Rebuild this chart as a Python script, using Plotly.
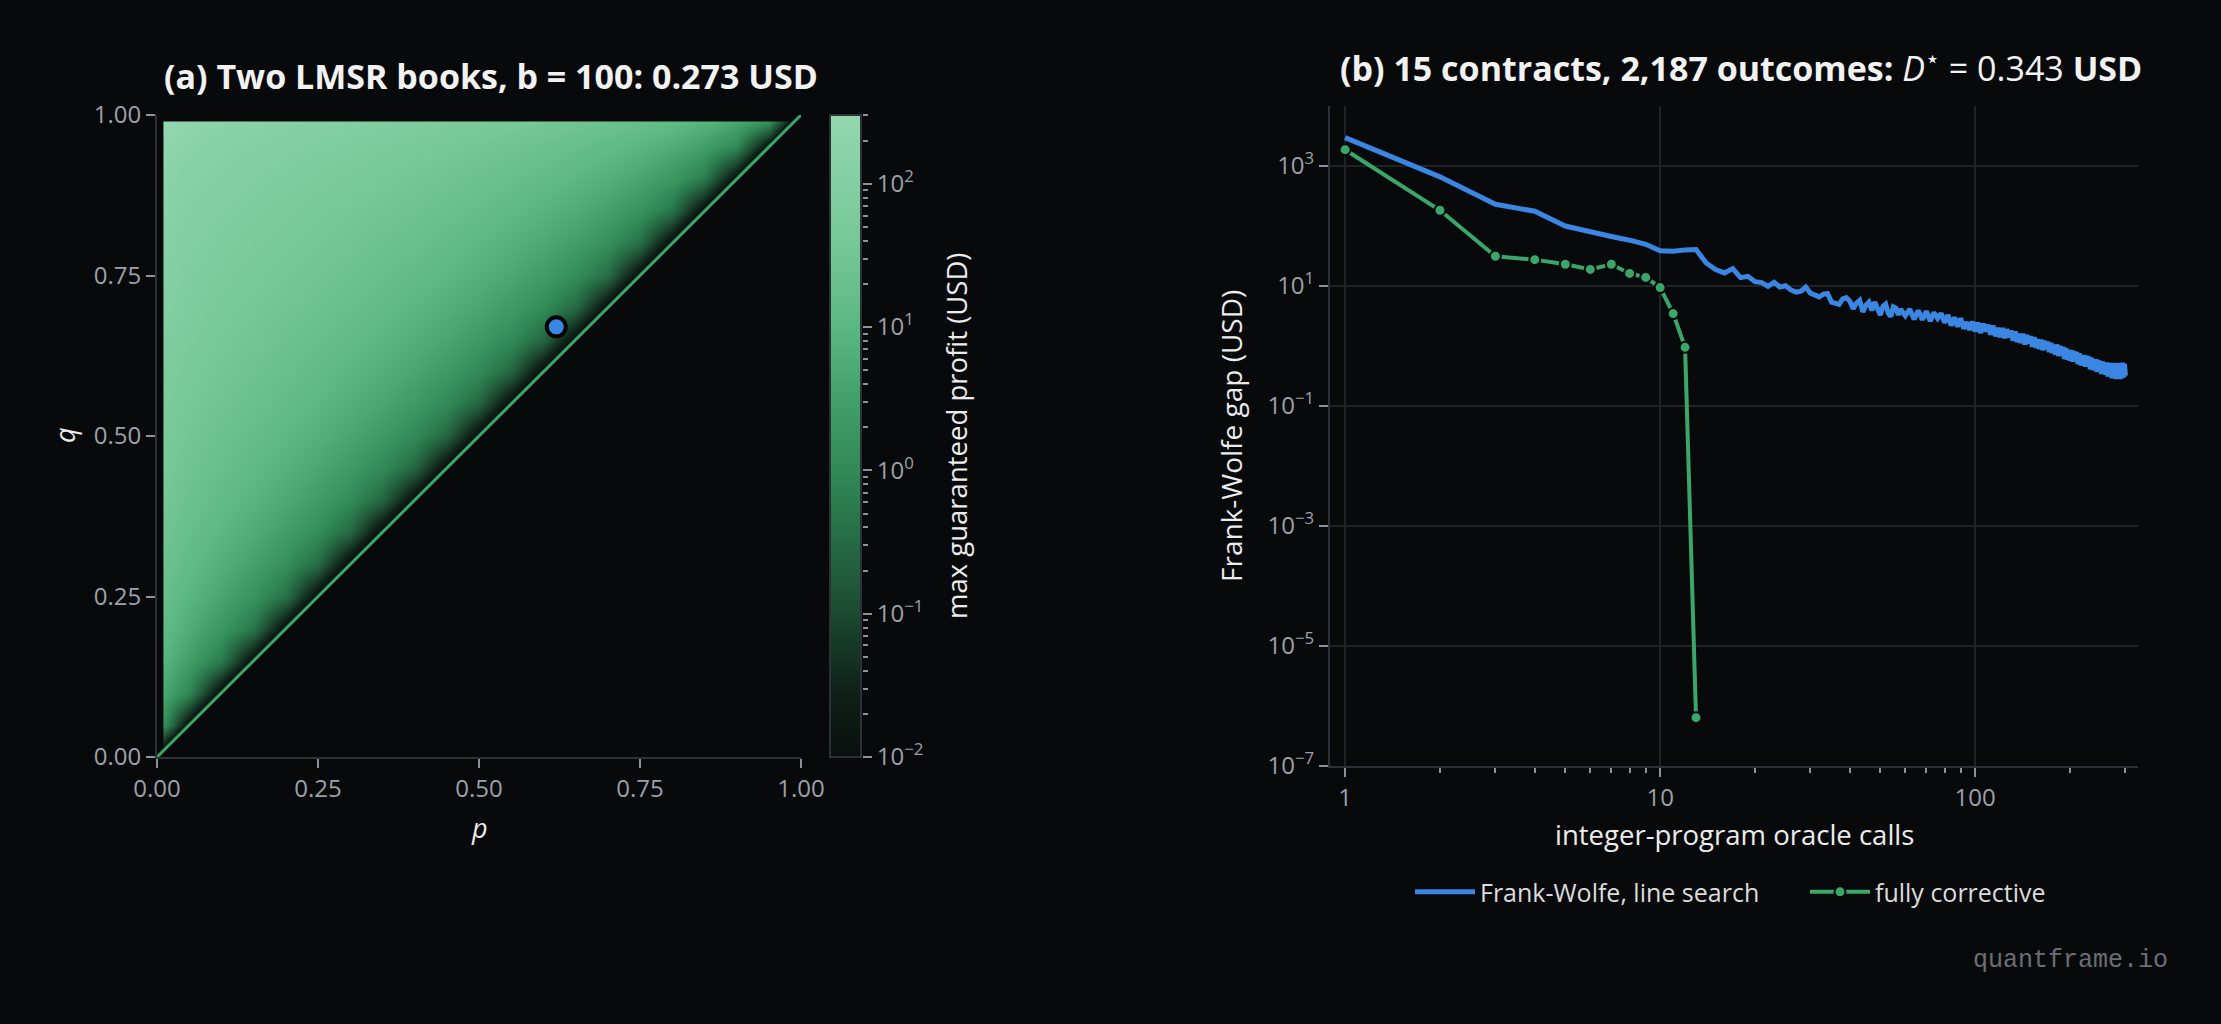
import plotly.graph_objects as go

W, H = 2221, 1024
BG = "#08090b"
BLUE = "#3a86e2"
GREEN = "#3aa66a"
SPINE = "#2c3037"
GRIDC = "#1f2227"
TICKC = "#8e939b"
TICKFONTC = "#9ca1a9"
TEXTC = "#ececec"
FONT = "Open Sans, Noto Sans, sans-serif"

# ---------------- Panel (a): two LMSR books ----------------
PRICE_GRID = [0.01, 0.05, 0.10, 0.15, 0.20, 0.25, 0.30, 0.35, 0.40, 0.45, 0.50,
              0.55, 0.60, 0.65, 0.70, 0.75, 0.80, 0.85, 0.90, 0.95, 0.99]
LOG_FLOOR = -2.0
LOG_CEIL = 2.48
# log10 max guaranteed profit (USD); row = q index, entries for p index < q index
LOG_PROFIT_UPPER = [
    [],
    [0.20],
    [0.69, -0.03],
    [0.95, 0.47, -0.24],
    [1.13, 0.76, 0.31, -0.36],
    [1.27, 0.96, 0.61, 0.20, -0.44],
    [1.38, 1.11, 0.83, 0.52, 0.13, -0.50],
    [1.47, 1.23, 0.99, 0.75, 0.46, 0.08, -0.54],
    [1.56, 1.34, 1.13, 0.92, 0.69, 0.42, 0.04, -0.57],
    [1.64, 1.43, 1.25, 1.07, 0.87, 0.65, 0.39, 0.02, -0.59],
    [1.71, 1.52, 1.35, 1.19, 1.02, 0.84, 0.63, 0.37, 0.01, -0.60],
    [1.78, 1.60, 1.44, 1.30, 1.15, 1.00, 0.82, 0.62, 0.36, 0.00, -0.60],
    [1.84, 1.67, 1.53, 1.40, 1.26, 1.13, 0.98, 0.81, 0.61, 0.36, 0.01, -0.59],
    [1.90, 1.75, 1.61, 1.49, 1.37, 1.25, 1.12, 0.97, 0.81, 0.62, 0.37, 0.02, -0.57],
    [1.97, 1.82, 1.69, 1.57, 1.47, 1.36, 1.24, 1.12, 0.98, 0.82, 0.63, 0.39, 0.04, -0.54],
    [2.03, 1.89, 1.76, 1.66, 1.56, 1.46, 1.36, 1.25, 1.13, 1.00, 0.84, 0.65, 0.42, 0.08, -0.50],
    [2.10, 1.96, 1.84, 1.74, 1.65, 1.56, 1.47, 1.37, 1.26, 1.15, 1.02, 0.87, 0.69, 0.46, 0.13, -0.44],
    [2.17, 2.03, 1.92, 1.83, 1.74, 1.66, 1.57, 1.49, 1.40, 1.30, 1.19, 1.07, 0.92, 0.75, 0.52, 0.20, -0.36],
    [2.25, 2.12, 2.01, 1.92, 1.84, 1.76, 1.69, 1.61, 1.53, 1.44, 1.35, 1.25, 1.13, 0.99, 0.83, 0.61, 0.31, -0.24],
    [2.36, 2.22, 2.12, 2.03, 1.96, 1.89, 1.82, 1.75, 1.67, 1.60, 1.52, 1.43, 1.34, 1.23, 1.11, 0.96, 0.76, 0.47, -0.03],
    [2.51, 2.36, 2.25, 2.17, 2.10, 2.03, 1.97, 1.90, 1.84, 1.78, 1.71, 1.64, 1.56, 1.47, 1.38, 1.27, 1.13, 0.95, 0.69, 0.20],
]
MARK_P = [0.62]
MARK_Q = [0.67]
DIAG_P = [0.0, 1.0]
DIAG_Q = [0.0, 1.0]
A_TICKS = [0.0, 0.25, 0.5, 0.75, 1.0]
A_TICKTEXT = ["0.00", "0.25", "0.50", "0.75", "1.00"]
CB_TICKS = [0.01, 0.1, 1, 10, 100]
CB_TICKTEXT = ["10<sup>\u22122</sup>", "10<sup>\u22121</sup>", "10<sup>0</sup>",
               "10<sup>1</sup>", "10<sup>2</sup>"]
CB_MINOR = [0.02, 0.03, 0.04, 0.05, 0.06, 0.07, 0.08, 0.09,
            0.2, 0.3, 0.4, 0.5, 0.6, 0.7, 0.8, 0.9,
            2, 3, 4, 5, 6, 7, 8, 9,
            20, 30, 40, 50, 60, 70, 80, 90, 200, 300]
COLORSCALE = [
    [0.00, "#0a0f0d"],
    [0.10, "#0f2018"],
    [0.224, "#1c4a31"],
    [0.335, "#266b44"],
    [0.447, "#318a56"],
    [0.56, "#43a068"],
    [0.671, "#5cb882"],
    [0.80, "#76c896"],
    [1.00, "#93d7ae"],
]

# ---------------- Panel (b): Frank-Wolfe gap ----------------
FC_CALLS = list(range(1, 14))
FC_GAP = [1870, 183, 31.3, 27.5, 23.0, 18.9, 23.0, 16.2, 13.9, 9.4, 3.47, 0.95, 6.4e-7]

FW_CALLS = list(range(1, 61)) + list(range(62, 301, 2))
FW_GAP = [
    2970, 660, 230, 176, 100, 79, 67, 58, 49.5, 38.5,
    38.0, 40.0, 40.5, 24.2, 18.8, 16.5, 19.5, 13.8, 14.5, 11.8,
    11.4, 9.9, 11.5, 9.6, 10.1, 8.6, 7.9, 8.2, 9.6, 7.6,
    7.0, 6.6, 7.3, 7.5, 5.4, 5.1, 4.95, 6.1, 6.4, 5.6,
    4.2, 5.2, 5.8, 3.7, 4.8, 5.4, 3.9, 5.4, 4.3, 3.3,
    4.6, 5.0, 3.5, 3.1, 4.5, 4.3, 3.3, 4.1, 3.6, 3.2,
    4.1, 2.8, 3.9, 2.75, 3.8, 2.6, 3.6, 2.9, 3.5, 2.45,
    3.3, 2.2, 3.0, 2.1, 2.9, 1.95, 2.5, 1.85, 2.55, 1.75,
    2.45, 1.65, 2.35, 1.75, 2.25, 1.55, 2.2, 1.45, 2.0, 1.4,
    2.0, 1.35, 1.9, 1.4, 1.82, 1.22, 1.75, 1.16, 1.6, 1.12,
    1.6, 1.06, 1.52, 1.1, 1.46, 0.97, 1.4, 0.93, 1.3, 0.89,
    1.28, 0.85, 1.22, 0.88, 1.18, 0.79, 1.13, 0.76, 1.04, 0.72,
    1.06, 0.68, 1.0, 0.7, 0.97, 0.61, 0.92, 0.59, 0.86, 0.57,
    0.85, 0.55, 0.82, 0.56, 0.79, 0.5, 0.76, 0.48, 0.71, 0.47,
    0.71, 0.45, 0.69, 0.46, 0.66, 0.41, 0.64, 0.4, 0.6, 0.39,
    0.6, 0.37, 0.58, 0.38, 0.56, 0.34, 0.55, 0.34, 0.52, 0.33,
    0.53, 0.31, 0.52, 0.32, 0.52, 0.29, 0.52, 0.3, 0.49, 0.28,
    0.52, 0.3, 0.51, 0.28, 0.52, 0.29, 0.53, 0.3, 0.5, 0.32,
]
B_XTICKS = [1, 10, 100]
B_XTICKTEXT = ["1", "10", "100"]
B_XMINOR = [2, 3, 4, 5, 6, 7, 8, 9, 20, 30, 40, 50, 60, 70, 80, 90, 200, 300]
B_YTICKS = [1e-7, 1e-5, 1e-3, 1e-1, 1e1, 1e3]
B_YTICKTEXT = ["10<sup>\u22127</sup>", "10<sup>\u22125</sup>", "10<sup>\u22123</sup>",
               "10<sup>\u22121</sup>", "10<sup>1</sup>", "10<sup>3</sup>"]

# ---------------- build heatmap table ----------------
n = len(PRICE_GRID)
Z = []
for j in range(n):
    row = []
    for i in range(n):
        if i < j:
            row.append(LOG_PROFIT_UPPER[j][i])
        elif i == j:
            row.append(LOG_FLOOR)
        else:
            row.append(2 * LOG_FLOOR - LOG_PROFIT_UPPER[i][j])
    Z.append(row)

lo, hi = PRICE_GRID[0], PRICE_GRID[-1]
OUT_LO, OUT_HI = -0.2, 1.2
mask_x = [OUT_LO, OUT_HI, OUT_HI, OUT_LO, None,
          OUT_LO, lo, lo, OUT_LO, OUT_LO, None,
          OUT_LO, OUT_HI, OUT_HI, OUT_LO, OUT_LO]
mask_y = [OUT_LO, OUT_HI, OUT_LO, OUT_LO, None,
          OUT_LO, OUT_LO, OUT_HI, OUT_HI, OUT_LO, None,
          hi, hi, OUT_HI, OUT_HI, hi]


def px_x(v):
    return v / W


def px_y(v):
    return 1 - v / H


LEFT_X = [px_x(157), px_x(801)]
LEFT_Y = [px_y(757), px_y(115)]
RIGHT_X = [px_x(1330), px_x(2138)]
RIGHT_Y = [px_y(766), px_y(106)]

fig = go.Figure()

fig.add_trace(go.Heatmap(
    x=PRICE_GRID, y=PRICE_GRID, z=Z, zmin=LOG_FLOOR, zmax=LOG_CEIL,
    zsmooth="best", colorscale=COLORSCALE, hoverinfo="skip",
    xaxis="x", yaxis="y",
    colorbar=dict(x=px_x(830), xanchor="left", y=LEFT_Y[0], yanchor="bottom",
                  len=LEFT_Y[1] - LEFT_Y[0], lenmode="fraction",
                  thickness=31, thicknessmode="pixels",
                  outlinewidth=2, outlinecolor=SPINE, borderwidth=0,
                  ticks="", showticklabels=False, xpad=0, ypad=0),
))
fig.add_trace(go.Scatter(x=mask_x, y=mask_y, mode="lines", fill="toself",
                         fillcolor=BG, line=dict(width=0, color=BG),
                         hoverinfo="skip", showlegend=False, xaxis="x", yaxis="y"))
fig.add_trace(go.Scatter(x=DIAG_P, y=DIAG_Q, mode="lines",
                         line=dict(color=GREEN, width=3),
                         hoverinfo="skip", showlegend=False, xaxis="x", yaxis="y"))
fig.add_trace(go.Scatter(x=MARK_P, y=MARK_Q, mode="markers",
                         marker=dict(size=19, color=BLUE, line=dict(width=4, color="#050505")),
                         hoverinfo="skip", showlegend=False, xaxis="x", yaxis="y"))
# carrier for colorbar tick axis
fig.add_trace(go.Scatter(x=[], y=[], xaxis="x", yaxis="y3", showlegend=False,
                         hoverinfo="skip"))

fig.add_trace(go.Scatter(x=FW_CALLS, y=FW_GAP, mode="lines", name="Frank-Wolfe, line search",
                         line=dict(color=BLUE, width=5), xaxis="x2", yaxis="y2"))
fig.add_trace(go.Scatter(x=FC_CALLS, y=FC_GAP, mode="lines+markers", name="fully corrective",
                         line=dict(color=GREEN, width=4),
                         marker=dict(size=11, color=GREEN, line=dict(width=2, color=BG)),
                         xaxis="x2", yaxis="y2"))

tickfont = dict(family=FONT, size=24, color=TICKFONTC)

fig.update_layout(
    width=W, height=H, autosize=False,
    margin=dict(l=0, r=0, t=0, b=0, autoexpand=False),
    paper_bgcolor=BG, plot_bgcolor=BG,
    font=dict(family=FONT, color=TEXTC),
    hovermode=False,
    xaxis=dict(domain=LEFT_X, anchor="y", range=[0, 1], showgrid=False, zeroline=False,
               showline=True, linecolor=SPINE, linewidth=2,
               ticks="outside", ticklen=9, tickwidth=2, tickcolor=TICKC,
               tickvals=A_TICKS, ticktext=A_TICKTEXT, tickfont=tickfont),
    yaxis=dict(domain=LEFT_Y, anchor="x", range=[0, 1], showgrid=False, zeroline=False,
               showline=True, linecolor=SPINE, linewidth=2,
               ticks="outside", ticklen=9, tickwidth=2, tickcolor=TICKC,
               tickvals=A_TICKS, ticktext=A_TICKTEXT, tickfont=tickfont),
    yaxis3=dict(overlaying="y", anchor="free", position=px_x(862), side="right",
                type="log", range=[LOG_FLOOR, LOG_CEIL], showgrid=False, zeroline=False,
                showline=False, ticks="outside", ticklen=9, tickwidth=2, tickcolor=TICKC,
                tickvals=CB_TICKS, ticktext=CB_TICKTEXT, tickfont=tickfont,
                minor=dict(ticks="outside", ticklen=5, tickwidth=1.5, tickcolor=TICKC,
                           tickvals=CB_MINOR, showgrid=False)),
    xaxis2=dict(domain=RIGHT_X, anchor="y2", type="log", range=[-0.048, 2.517],
                showgrid=True, gridcolor=GRIDC, gridwidth=2, zeroline=False,
                showline=True, linecolor=SPINE, linewidth=2,
                ticks="outside", ticklen=9, tickwidth=2, tickcolor=TICKC,
                tickvals=B_XTICKS, ticktext=B_XTICKTEXT, tickfont=tickfont,
                minor=dict(ticks="outside", ticklen=5, tickwidth=1.5, tickcolor=TICKC,
                           tickvals=B_XMINOR, showgrid=False)),
    yaxis2=dict(domain=RIGHT_Y, anchor="x2", type="log", range=[-7, 4],
                showgrid=True, gridcolor=GRIDC, gridwidth=2, zeroline=False,
                showline=True, linecolor=SPINE, linewidth=2,
                ticks="outside", ticklen=9, tickwidth=2, tickcolor=TICKC,
                tickvals=B_YTICKS, ticktext=B_YTICKTEXT, tickfont=tickfont),
    legend=dict(orientation="h", x=px_x(1410), xanchor="left", y=px_y(892), yanchor="middle",
                bgcolor="rgba(0,0,0,0)", font=dict(family=FONT, size=25, color="#dcdcdc"),
                itemwidth=60, entrywidth=320, entrywidthmode="pixels"),
)

ann = [
    dict(text="<b>(a) Two LMSR books, b = 100: 0.273 USD</b>", x=px_x(491), y=px_y(76),
         font=dict(size=34, color="#f2f2f2")),
    dict(text="<b>(b) 15 contracts, 2,187 outcomes: </b><i>D</i><sup>\u22c6</sup> = 0.343 <b>USD</b>",
         x=px_x(1741), y=px_y(66), font=dict(size=34, color="#f2f2f2")),
    dict(text="<i>q</i>", x=px_x(64), y=px_y(435), textangle=-90, font=dict(size=27, color=TEXTC)),
    dict(text="<i>p</i>", x=px_x(479), y=px_y(827), font=dict(size=27, color=TEXTC)),
    dict(text="max guaranteed profit (USD)", x=px_x(956), y=px_y(436), textangle=-90,
         font=dict(size=27.5, color=TEXTC)),
    dict(text="Frank-Wolfe gap (USD)", x=px_x(1231), y=px_y(436), textangle=-90,
         font=dict(size=28, color=TEXTC)),
    dict(text="integer-program oracle calls", x=px_x(1734), y=px_y(834),
         font=dict(size=27.5, color=TEXTC)),
    dict(text="quantframe.io", x=px_x(2170), y=px_y(960), xanchor="right",
         font=dict(family="Liberation Mono, DejaVu Sans Mono, monospace", size=25, color="#6a6f77")),
]
for a in ann:
    a.setdefault("xanchor", "center")
    a.update(xref="paper", yref="paper", yanchor="middle", showarrow=False)
fig.update_layout(annotations=ann)

fig.write_html("out.html", config={"displayModeBar": False},
               post_script="document.body.style.margin='0';")
